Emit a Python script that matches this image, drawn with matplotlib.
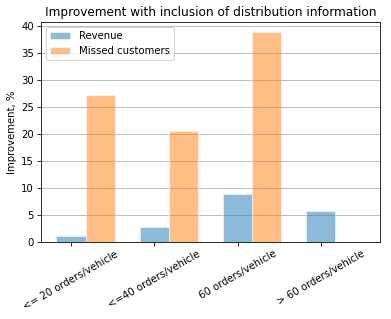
import numpy as np
import matplotlib
matplotlib.use('Agg')
import matplotlib.pyplot as plt

categories = ['<= 20 orders/vehicle', '<=40 orders/vehicle', '60 orders/vehicle', '> 60 orders/vehicle']
revenue = [1.1, 2.8, 8.8, 5.8]
missed = [27.2, 20.5, 38.8, 0.0]

x = np.arange(len(categories))
w = 0.35

# drawn at a small dpi so default font sizes match the scaled-down original
fig, ax = plt.subplots(figsize=(391 / 73, 319 / 73), dpi=73)
ax.bar(x, revenue, w, color='tab:blue', alpha=0.5, edgecolor='white', label='Revenue')
ax.bar(x + w, missed, w, color='tab:orange', alpha=0.5, edgecolor='white', label='Missed customers')
ax.set_axisbelow(True)
ax.grid(axis='y')
ax.set_xticks(x)
ax.set_xticklabels(categories, rotation=30)
ax.set_ylabel('Improvement, %')
ax.set_title('Improvement with inclusion of distribution information')
ax.legend(loc='upper left')

fig.subplots_adjust(left=0.105, right=0.972, top=0.931, bottom=0.242)
fig.savefig('out.png', dpi=73)
